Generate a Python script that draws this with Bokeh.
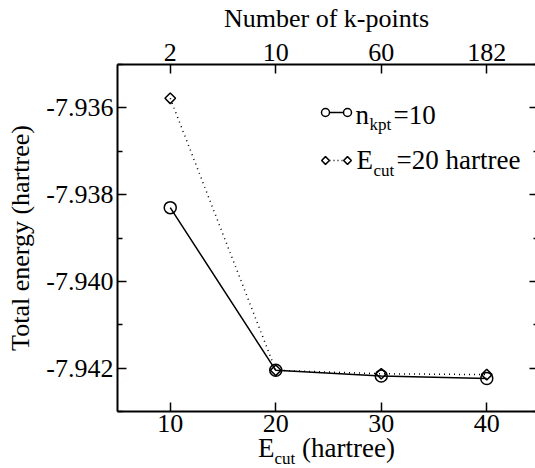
import numpy as np
from bokeh.plotting import figure
from bokeh.layouts import column
from bokeh.models import (Range1d, LinearAxis, FixedTicker, Label, Div,
                          NumeralTickFormatter, CustomJSTickFormatter)
from bokeh.embed import file_html
from bokeh.resources import INLINE

# Convergence of the total energy
ecut = [10, 20, 30, 40]                      # plane-wave cutoff (hartree), n_kpt = 10
energy_vs_ecut = [-7.9383, -7.94205, -7.94218, -7.94224]
kpoints = ["2", "10", "60", "182"]           # number of k-points, E_cut = 20 hartree
energy_vs_kpoints = [-7.93578, -7.94205, -7.94213, -7.94215]
energy_ticks = [-7.942, -7.940, -7.938, -7.936]
energy_minor = [-7.943, -7.941, -7.939, -7.937, -7.935]

FONT = "Liberation Serif"
W, H = 535, 468
TITLE_H = 22                                  # strip under the plot for the x title
PH = H - TITLE_H
LEFT, RIGHT, TOP, BOTTOM = 117, 0, 64, PH - 411
X0, X1 = 5, 44.62
Y0, Y1 = -7.943, -7.935
FW, FH = W - LEFT - RIGHT, PH - TOP - BOTTOM


def xd(px):
    """canvas pixel column -> data x"""
    return X0 + (px - LEFT) * (X1 - X0) / FW


def yd(py):
    """canvas pixel row -> data y"""
    return Y1 - (py - TOP) * (Y1 - Y0) / FH


p = figure(width=W, height=PH, x_range=Range1d(X0, X1), y_range=Range1d(Y0, Y1),
           output_backend="svg", toolbar_location=None,
           x_axis_location=None, y_axis_location=None,
           min_border_left=LEFT, min_border_right=RIGHT,
           min_border_top=TOP, min_border_bottom=BOTTOM)
p.grid.grid_line_color = None
p.outline_line_color = None
p.background_fill_color = "white"
p.border_fill_color = "white"

# k-point index axis shares the pixel spacing of the cutoff axis
kpt_index = list(range(len(kpoints)))
p.extra_x_ranges = {"kpt": Range1d((X0 - ecut[0]) / 10, (X1 - ecut[0]) / 10)}


def style(ax, size="26px"):
    ax.axis_line_width = 2
    ax.axis_line_color = "black"
    ax.major_tick_line_width = 1.5
    ax.minor_tick_line_width = 1.5
    ax.major_tick_in = 9
    ax.major_tick_out = 0
    ax.minor_tick_in = 5
    ax.minor_tick_out = 0
    ax.major_label_text_font = FONT
    ax.major_label_text_font_size = size
    ax.major_label_text_color = "black"
    ax.axis_label_text_font = FONT
    ax.axis_label_text_font_style = "normal"
    ax.axis_label_text_font_size = size
    ax.axis_label_text_color = "black"


bottom = LinearAxis(ticker=FixedTicker(ticks=ecut, minor_ticks=[]))
style(bottom)
bottom.major_label_standoff = 3
p.add_layout(bottom, "below")

left = LinearAxis(ticker=FixedTicker(ticks=energy_ticks, minor_ticks=energy_minor),
                  formatter=NumeralTickFormatter(format="0.000"),
                  axis_label="Total energy (hartree)")
style(left)
left.major_label_standoff = 4
left.axis_label_standoff = 8
p.add_layout(left, "left")

top = LinearAxis(x_range_name="kpt",
                 ticker=FixedTicker(ticks=kpt_index, minor_ticks=[]),
                 major_label_overrides={i: k for i, k in zip(kpt_index, kpoints)},
                 axis_label="Number of k-points")
style(top)
top.major_label_standoff = 4
top.axis_label_standoff = 8
p.add_layout(top, "above")

right = LinearAxis(ticker=FixedTicker(ticks=energy_ticks, minor_ticks=energy_minor),
                   formatter=CustomJSTickFormatter(code="return ''"))
style(right)
right.axis_line_color = None
right.major_tick_in = 6
right.minor_tick_in = 2
right.major_label_standoff = 0
p.add_layout(right, "right")

# series
p.line(kpt_index, energy_vs_kpoints, x_range_name="kpt", line_color="black",
       line_width=1.5, line_dash="1 4")
p.scatter(kpt_index, energy_vs_kpoints, x_range_name="kpt", marker="square",
          angle=np.pi / 4, size=7.5, fill_color=None, line_color="black", line_width=1.5)
p.line(ecut, energy_vs_ecut, line_color="black", line_width=1.5)
p.scatter(ecut, energy_vs_ecut, marker="circle", size=12, fill_color=None,
          line_color="black", line_width=1.5)

# legend samples
lx = [xd(325), xd(347)]
p.line(lx, [yd(112)] * 2, line_color="black", line_width=1.5)
p.scatter(lx, [yd(112)] * 2, marker="circle", size=8, fill_color="white",
          line_color="black", line_width=1.5)
p.line(lx, [yd(160)] * 2, line_color="black", line_width=1.5, line_dash="1 3")
p.scatter(lx, [yd(160)] * 2, marker="square", angle=np.pi / 4, size=5.5,
          fill_color="white", line_color="black", line_width=1.5)


def text(px, py, s, size):
    p.add_layout(Label(x=xd(px), y=yd(py), text=s, text_font=FONT,
                       text_font_size=size, text_baseline="alphabetic",
                       text_align="left", text_color="black"))


# legend entries with subscripts
text(355, 114, "n", "27px")
text(369, 124, "kpt", "17px")
text(393, 114, "=10", "27px")
text(356, 159, "E", "27px")
text(373, 170, "cut", "17px")
text(396, 159, "=20 hartree", "27px")

# x-axis title with subscript, in a strip under the plot
x_title = Div(
    text='E<sub style="font-size:17px;vertical-align:-7px;line-height:0">cut</sub> (hartree)',
    width=W, height=TITLE_H, margin=0,
    styles={"font-family": FONT, "font-size": "27px", "color": "black",
            "line-height": "26px", "white-space": "nowrap", "overflow": "visible",
            "padding-left": "258px", "position": "relative", "top": "-11px",
            "background-color": "white"})

layout = column(p, x_title, spacing=0, margin=0)
open("out.html", "w").write(file_html(layout, INLINE))
